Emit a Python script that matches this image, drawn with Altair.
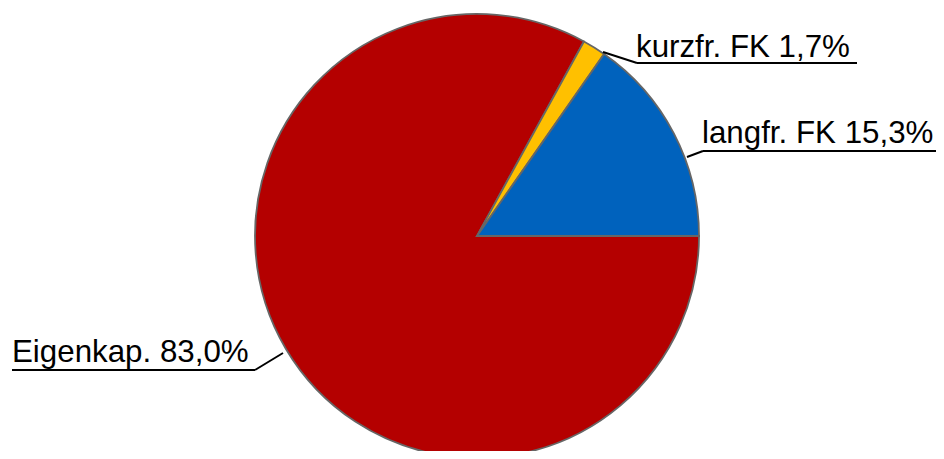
import altair as alt
import pandas as pd

# ---- data ----
categories = ["Eigenkap.", "kurzfr. FK", "langfr. FK"]
shares = [83.0, 1.7, 15.3]
labels = ["Eigenkap. 83,0%", "kurzfr. FK 1,7%", "langfr. FK 15,3%"]
colors = ["#b40000", "#ffc000", "#0062bd"]

# ---- layout (pixel positions of the label annotations) ----
W, H = 928, 443
CX, CY, R = 469, 228, 222
text_x = [4, 628, 694]
text_y = [354, 49, 135]
under_x1 = [4, 629, 695]
under_x2 = [247, 849, 928]
under_y = [362, 55, 143]
lead_x = [275, 595, 679]
lead_y = [345, 44, 149]
lead_end_x = [247, 629, 695]

df = pd.DataFrame({"cat": categories, "share": shares, "order": [0, 1, 2]})
ann = pd.DataFrame({
    "label": labels,
    "tx": text_x, "ty": text_y,
    "ux1": under_x1, "ux2": under_x2, "uy": under_y,
    "lx": lead_x, "ly": lead_y, "lx2": lead_end_x,
})

pie = alt.Chart(df).mark_arc(radius=R, stroke="#666666", strokeWidth=1.8).encode(
    theta=alt.Theta("share:Q", stack=True,
                    scale=alt.Scale(range=[1.5707963, 1.5707963 + 6.2831853])),
    order=alt.Order("order:Q"),
    color=alt.Color("cat:N", scale=alt.Scale(domain=categories, range=colors), legend=None),
    x=alt.value(CX), y=alt.value(CY),
)

base = alt.Chart(ann)
text = base.mark_text(align="left", baseline="alphabetic", font="Liberation Sans",
                      fontSize=31.3, color="#000000").encode(
    x=alt.X("tx:Q", scale=None), y=alt.Y("ty:Q", scale=None), text="label:N")
under = base.mark_rule(color="#000000", strokeWidth=2).encode(
    x=alt.X("ux1:Q", scale=None), x2="ux2:Q",
    y=alt.Y("uy:Q", scale=None), y2="uy:Q")
lead = base.mark_rule(color="#000000", strokeWidth=2).encode(
    x=alt.X("lx:Q", scale=None), x2="lx2:Q",
    y=alt.Y("ly:Q", scale=None), y2="uy:Q")

chart = alt.layer(pie, lead, under, text).properties(
    width=W, height=H, autosize=alt.AutoSizeParams(type="none"), padding=0
).configure(background="white", view=alt.ViewConfig(stroke=None))

chart.save("out.html", embed_options={"renderer": "svg", "actions": False})
